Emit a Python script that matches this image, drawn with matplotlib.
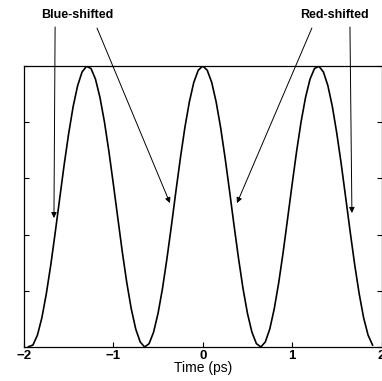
import matplotlib
matplotlib.use("Agg")
import matplotlib.pyplot as plt
import numpy as np

# Time samples (ps) and normalized intensity
t_pos = [0.00, 0.05, 0.10, 0.15, 0.20, 0.25, 0.30, 0.35, 0.40, 0.45,
         0.50, 0.55, 0.60, 0.65, 0.70, 0.75, 0.80, 0.85, 0.90, 0.95,
         1.00, 1.05, 1.10, 1.15, 1.20, 1.25, 1.30, 1.35, 1.40, 1.45,
         1.50, 1.55, 1.60, 1.65, 1.70, 1.75, 1.80, 1.85, 1.90, 1.95]
v_pos = [1.000, 0.985, 0.942, 0.872, 0.781, 0.673, 0.555, 0.433, 0.316, 0.209,
         0.120, 0.053, 0.012, 0.000, 0.018, 0.064, 0.136, 0.229, 0.338, 0.458,
         0.579, 0.696, 0.801, 0.888, 0.953, 0.991, 0.999, 0.979, 0.930, 0.856,
         0.760, 0.650, 0.530, 0.409, 0.293, 0.190, 0.104, 0.042, 0.007, 0.001]

time = [-t for t in reversed(t_pos[1:])] + t_pos[:-1]
intensity = list(reversed(v_pos[1:])) + v_pos[:-1]

x_ticks = [-2, -1, 0, 1, 2]
x_ticklabels = ["\u22122", "\u22121", "0", "1", "2"]
y_ticks = [0.0, 0.2, 0.4, 0.6, 0.8, 1.0]

labels = ["Blue-shifted", "Red-shifted"]
label_pos = [(-1.407, 1.181), (1.479, 1.181)]
arrows = [
    ((-1.652, 1.139), (-1.665, 0.459)),
    ((-1.183, 1.135), (-0.367, 0.512)),
    ((1.221, 1.135), (0.383, 0.512)),
    ((1.647, 1.139), (1.669, 0.477)),
]

plt.rcParams['font.family'] = ['Liberation Sans', 'DejaVu Sans']

fig = plt.figure(figsize=(3.82, 3.81), dpi=100)
ax = fig.add_axes([24 / 382, 34 / 381, 357.5 / 382, 281 / 381])

ax.plot(time, intensity, color='black', lw=1.2)

ax.set_xlim(-2, 2)
ax.set_ylim(0, 1)
ax.set_xticks(x_ticks)
ax.set_xticklabels(x_ticklabels, fontsize=9.5, fontweight='bold')
ax.set_yticks(y_ticks)
ax.set_yticklabels([])
ax.tick_params(axis='both', direction='in', length=3.5, width=0.8,
               left=True, right=True, bottom=True, top=False, pad=2)
for s in ax.spines.values():
    s.set_linewidth(0.9)
ax.set_xlabel("Time (ps)", fontsize=10, labelpad=-0.5)

for lab, (lx, ly) in zip(labels, label_pos):
    ax.text(lx, ly, lab, ha='center', va='center', fontsize=9,
            fontweight='bold', clip_on=False)

for (x0, y0), (x1, y1) in arrows:
    ax.annotate("", xy=(x1, y1), xytext=(x0, y0),
                arrowprops=dict(arrowstyle='-|>', lw=0.7, color='black',
                                mutation_scale=8, shrinkA=0, shrinkB=0),
                annotation_clip=False)

fig.savefig("out.png", dpi=100)
